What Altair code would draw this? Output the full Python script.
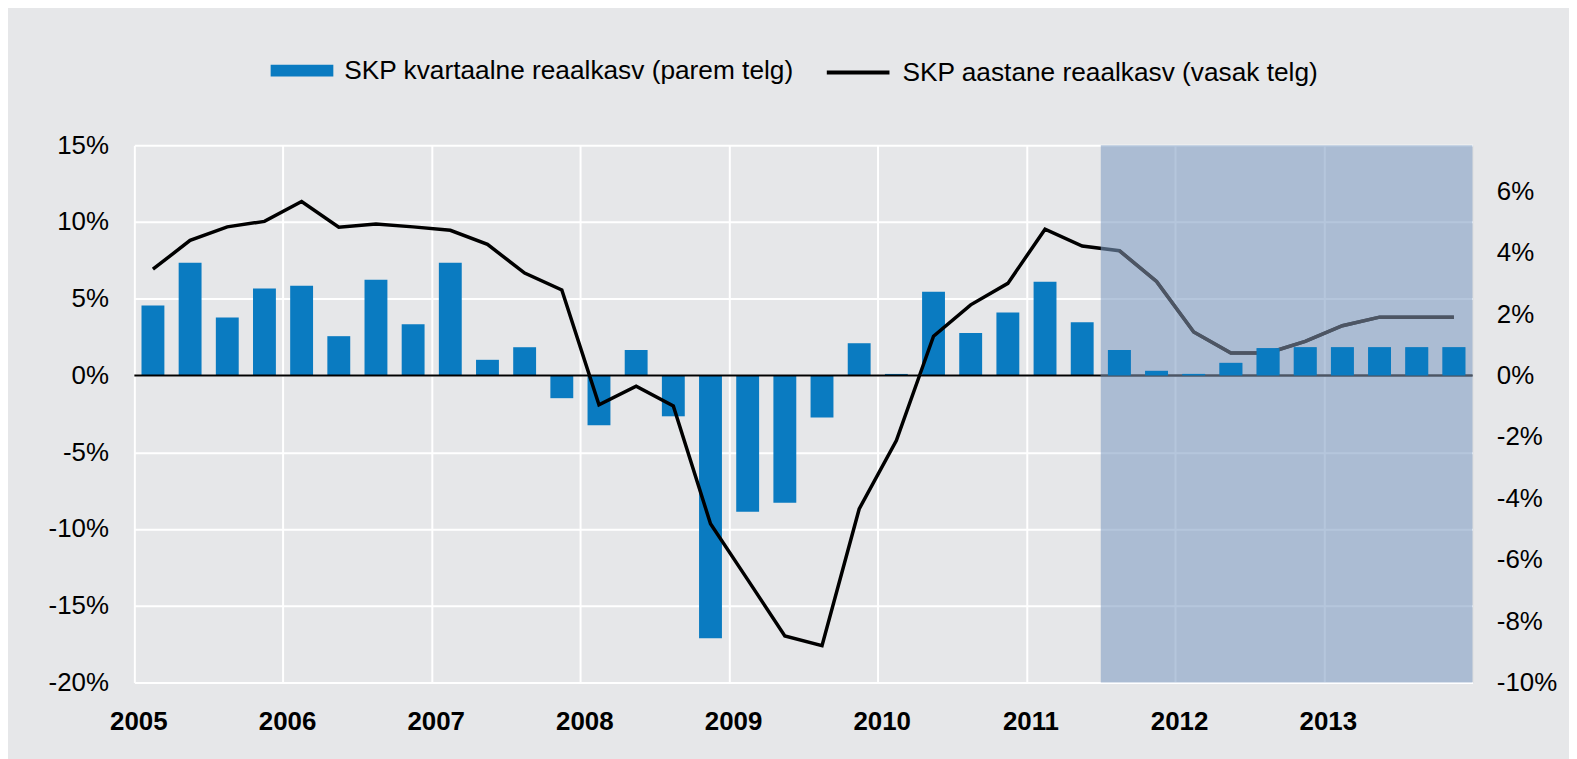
import altair as alt
import pandas as pd

FONT = "Liberation Sans"
BLUE = "#0A7BC1"
SHADE = "#809DC3"
FC_GRAY = "#4D5563"

LBL_BAR = "SKP kvartaalne reaalkasv (parem telg)"
LBL_LINE = "SKP aastane reaalkasv (vasak telg)"

# quarters 2005 Q1 ... 2013 Q4
aastad = list(range(2005, 2014))
kvartalid = [f"{a} Q{k}" for a in aastad for k in range(1, 5)]

# quarterly real growth (right axis, %)
kvartaalne = [2.28, 3.67, 1.89, 2.83, 2.92, 1.28, 3.12, 1.67,
              3.67, 0.51, 0.92, -0.74, -1.62, 0.83, -1.33, -8.56,
              -4.44, -4.15, -1.37, 1.05, 0.05, 2.73, 1.38, 2.05,
              3.05, 1.73, 0.83, 0.15, 0.05, 0.41, 0.89, 0.92,
              0.92, 0.92, 0.92, 0.92]

# annual real growth (left axis, %)
aastane = [6.92, 8.8, 9.68, 10.04, 11.33, 9.66, 9.87, 9.68,
           9.46, 8.54, 6.67, 5.57, -1.91, -0.7, -1.98, -9.66,
           -13.3, -16.97, -17.6, -8.7, -4.24, 2.56, 4.6, 6.0,
           9.53, 8.43, 8.13, 6.13, 2.83, 1.46, 1.46, 2.22,
           3.24, 3.8, 3.8, 3.8]

# forecast period (shaded)
prognoos_algus = [2011.5]
prognoos_lopp = [2014.0]

vasak_tickid = [-20, -15, -10, -5, 0, 5, 10, 15]
parem_tickid = [-10, -8, -6, -4, -2, 0, 2, 4, 6]

t = [aastad[0] + (i + 0.5) / 4 for i in range(len(kvartalid))]
df = pd.DataFrame({
    "kvartal": kvartalid,
    "t": t,
    "q": kvartaalne,
    "a": aastane,
    "b0": [0.0] * len(kvartalid),
    "s_bar": [LBL_BAR] * len(kvartalid),
    "s_line": [LBL_LINE] * len(kvartalid),
})
df_shade = pd.DataFrame({"s": prognoos_algus, "e": prognoos_lopp, "z": [0.0]})
df_zero = pd.DataFrame({"z": [0.0]})

x_scale = alt.Scale(domain=[2005, 2014], nice=False, zero=False, padding=0)
left_scale = alt.Scale(domain=[-20, 15], nice=False, zero=False)
right_scale = alt.Scale(domain=[-10, 7.5], nice=False, zero=False)

x_axis = alt.Axis(values=aastad, format="d", title=None, grid=True,
                  gridColor="white", gridWidth=2, domain=False, ticks=False,
                  labelFont=FONT, labelFontSize=26, labelFontWeight="bold",
                  labelColor="black", labelPadding=26, labelOffset=4,
                  labelFlush=False, labelOverlap=False)
left_axis = alt.Axis(values=vasak_tickid, labelExpr="datum.value + '%'",
                     title=None, grid=True, gridColor="white", gridWidth=2,
                     domain=False, ticks=False, orient="left",
                     labelFont=FONT, labelFontSize=26, labelColor="black",
                     labelPadding=26, labelFlush=False, labelOverlap=False)
right_axis = alt.Axis(values=parem_tickid, labelExpr="datum.value + '%'",
                      title=None, grid=False, domain=False, ticks=False,
                      orient="right", labelFont=FONT, labelFontSize=26,
                      labelColor="black", labelPadding=24, labelFlush=False,
                      labelOverlap=False)

X = alt.X("t:Q", scale=x_scale, axis=x_axis)

bar_legend = alt.Legend(orient="none", legendX=137, legendY=-106.5, title=None,
                        symbolType="M-1,-0.19H1V0.19H-1Z", symbolSize=3969,
                        symbolStrokeWidth=0, labelFont=FONT, labelFontSize=26.4,
                        labelColor="black", labelOffset=11, labelLimit=1000,
                        padding=0)
line_legend = alt.Legend(orient="none", legendX=694, legendY=-106.5, title=None,
                         symbolType="stroke", symbolSize=3969,
                         symbolStrokeWidth=4, labelFont=FONT, labelFontSize=26.4,
                         labelColor="black", labelOffset=11, labelLimit=1000,
                         padding=0)

base = alt.Chart(df)

bars = base.mark_bar(size=23).encode(
    x=X,
    y=alt.Y("q:Q", scale=right_scale, axis=right_axis),
    y2="b0:Q",
    color=alt.Color("s_bar:N", scale=alt.Scale(domain=[LBL_BAR], range=[BLUE]),
                    legend=bar_legend),
)

zero_rule = alt.Chart(df_zero).mark_rule(color="black", strokeWidth=2).encode(
    y=alt.Y("z:Q", scale=left_scale, axis=None)
)

line = base.mark_line(strokeWidth=3.5).encode(
    x=X,
    y=alt.Y("a:Q", scale=left_scale, axis=left_axis),
    stroke=alt.Stroke("s_line:N", scale=alt.Scale(domain=[LBL_LINE], range=["black"]),
                      legend=line_legend),
)

shade = alt.Chart(df_shade).mark_rect(color=SHADE, opacity=0.58).encode(
    x=alt.X("s:Q", scale=x_scale, axis=x_axis),
    x2="e:Q",
)

zero_fc = alt.Chart(df_shade).mark_rule(color=FC_GRAY, strokeWidth=2).encode(
    x=alt.X("s:Q", scale=x_scale, axis=x_axis),
    x2="e:Q",
    y=alt.Y("z:Q", scale=left_scale, axis=None),
)

line_fc = base.transform_filter(
    alt.datum.t > prognoos_algus[0]
).mark_line(strokeWidth=3.5, color=FC_GRAY).encode(
    x=X,
    y=alt.Y("a:Q", scale=left_scale, axis=None),
)

bars_fc = base.transform_filter(
    alt.datum.t > prognoos_algus[0]
).mark_bar(size=23, color=BLUE).encode(
    x=X,
    y=alt.Y("q:Q", scale=right_scale, axis=None),
    y2="b0:Q",
)

chart = alt.layer(bars, zero_rule, line, shade, zero_fc, line_fc, bars_fc).resolve_scale(
    y="independent", color="independent", stroke="independent"
).properties(
    width=1345,
    height=540,
    autosize=alt.AutoSizeParams(type="none"),
    padding={"left": 127, "top": 136, "right": 97, "bottom": 75},
    background="#E6E7E9",
).configure_view(stroke=None).configure(font=FONT)

chart.save("out.html", embed_options={"renderer": "svg", "actions": False})
